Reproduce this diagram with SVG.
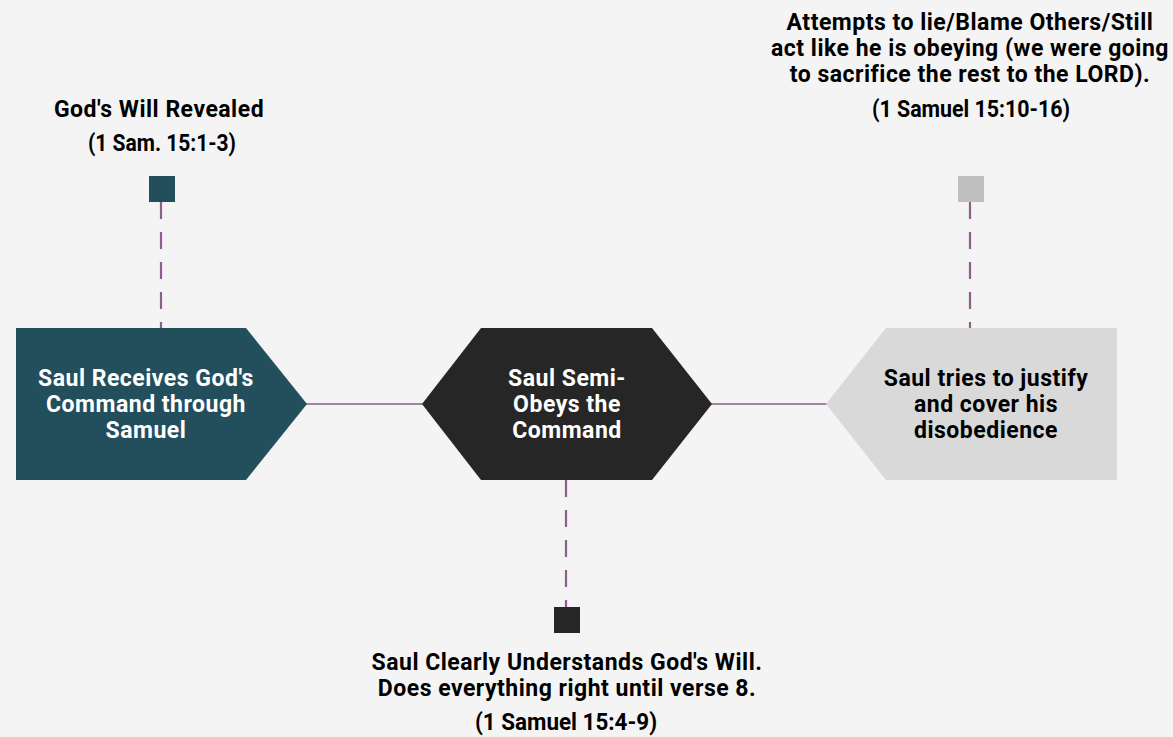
<svg xmlns="http://www.w3.org/2000/svg" width="1173" height="737" viewBox="0 0 1173 737">
<style>
text{font-family:Roboto,"DejaVu Sans",sans-serif;font-weight:bold;font-size:23px;letter-spacing:0.5px;text-anchor:middle}
.w{fill:#ffffff}
.k{fill:#000000}
.cite{letter-spacing:0}
.dash{stroke:#8b5e8c;stroke-width:2.2;stroke-dasharray:17 13;fill:none}
.solid{stroke:#8b5e8c;stroke-width:1.5;fill:none}
</style>
<rect width="1173" height="737" fill="#f4f4f4"/>
<g id="connectors">
<line class="solid" x1="306" y1="404" x2="423" y2="404"/>
<line class="solid" x1="711" y1="404" x2="827" y2="404"/>
<line class="dash" x1="161" y1="202" x2="161" y2="328"/>
<line class="dash" x1="566" y1="480" x2="566" y2="607"/>
<line class="dash" x1="970" y1="202" x2="970" y2="328"/>
</g>
<g id="node-receives">
<polygon points="16,328 246,328 307,404 246,480 16,480" fill="#234f5d"/>
<text class="w" x="146" y="386">Saul Receives God's</text>
<text class="w" x="146" y="412">Command through</text>
<text class="w" x="146" y="438">Samuel</text>
</g>
<g id="node-semi">
<polygon points="481,328 652,328 712,404 652,480 481,480 422,404" fill="#262626"/>
<text class="w" x="567" y="386">Saul Semi-</text>
<text class="w" x="567" y="412">Obeys the</text>
<text class="w" x="567" y="438">Command</text>
</g>
<g id="node-justify">
<polygon points="886,328 1117,328 1117,480 886,480 826,404" fill="#d9d9d9"/>
<text class="k" x="986" y="386">Saul tries to justify</text>
<text class="k" x="986" y="412">and cover his</text>
<text class="k" x="986" y="438">disobedience</text>
</g>
<g id="marker-revealed">
<rect x="149" y="176" width="26" height="26" fill="#234f5d"/>
<text class="k" x="159" y="117">God's Will Revealed</text>
<text class="k cite" x="162" y="151" textLength="148" lengthAdjust="spacingAndGlyphs">(1 Sam. 15:1-3)</text>
</g>
<g id="marker-understands">
<rect x="554" y="607" width="26" height="26" fill="#262626"/>
<text class="k" x="567" y="670">Saul Clearly Understands God's Will.</text>
<text class="k" x="567" y="696">Does everything right until verse 8.</text>
<text class="k cite" x="566" y="730" textLength="182" lengthAdjust="spacingAndGlyphs">(1 Samuel 15:4-9)</text>
</g>
<g id="marker-attempts">
<rect x="958" y="176" width="26" height="26" fill="#bfbfbf"/>
<text class="k" x="970" y="30">Attempts to lie/Blame Others/Still</text>
<text class="k" x="970" y="56">act like he is obeying (we were going</text>
<text class="k" x="970" y="82">to sacrifice the rest to the LORD).</text>
<text class="k cite" x="971" y="117" textLength="198" lengthAdjust="spacingAndGlyphs">(1 Samuel 15:10-16)</text>
</g>
</svg>
